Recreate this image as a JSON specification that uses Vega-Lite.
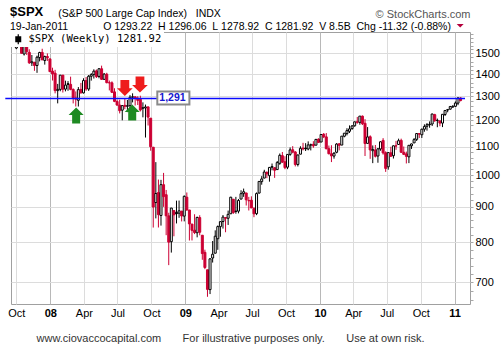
{
  "$schema": "https://vega.github.io/schema/vega-lite/v6.json",
  "width": 459,
  "height": 272,
  "autosize": {"type": "none"},
  "padding": {"left": 11, "top": 32, "right": 32, "bottom": 49},
  "background": "white",
  "config": {"view": {"stroke": "#a0a0a0", "strokeWidth": 1}, "font": "Liberation Sans"},
  "title": {
    "text": "$SPX",
    "subtitle": "19-Jan-2011\u00a0\u00a0\u00a0\u00a0\u00a0\u00a0\u00a0\u00a0\u00a0\u00a0\u00a0\u00a0O\u00a01293.22\u00a0\u00a0H\u00a01296.06\u00a0\u00a0L\u00a01278.92\u00a0\u00a0C\u00a01281.92\u00a0\u00a0V\u00a08.5B\u00a0\u00a0Chg\u00a0-11.32\u00a0(-0.88%)",
    "anchor": "start",
    "frame": "group",
    "dx": -1,
    "offset": -24,
    "font": "Liberation Sans",
    "fontSize": 13,
    "fontWeight": "bold",
    "color": "#000000",
    "subtitleFont": "Liberation Sans",
    "subtitleFontSize": 10.5,
    "subtitleColor": "#000000",
    "subtitlePadding": 2.5
  },
  "layer": [
    {
      "data": {"values": [
        {"d":"2007-10-01","o":1527.3,"h":1561.9,"l":1521.4,"c":1557.6},
        {"d":"2007-10-08","o":1557.6,"h":1576.1,"l":1546.7,"c":1561.8},
        {"d":"2007-10-15","o":1562.3,"h":1564.7,"l":1500.3,"c":1500.6},
        {"d":"2007-10-22","o":1497.2,"h":1535.4,"l":1489.6,"c":1535.3},
        {"d":"2007-10-29","o":1536.9,"h":1552.8,"l":1492.5,"c":1509.7},
        {"d":"2007-11-05","o":1505.6,"h":1520.8,"l":1448.5,"c":1453.7},
        {"d":"2007-11-12","o":1453.7,"h":1492.1,"l":1438.5,"c":1458.7},
        {"d":"2007-11-19","o":1456.7,"h":1456.7,"l":1415.6,"c":1440.7},
        {"d":"2007-11-26","o":1440.7,"h":1488.9,"l":1406.1,"c":1481.1},
        {"d":"2007-12-03","o":1479.6,"h":1508.3,"l":1460.7,"c":1504.7},
        {"d":"2007-12-10","o":1505.1,"h":1523.6,"l":1467.4,"c":1468.0},
        {"d":"2007-12-17","o":1465.1,"h":1489.1,"l":1445.1,"c":1484.5},
        {"d":"2007-12-24","o":1484.6,"h":1500.1,"l":1463.0,"c":1478.5},
        {"d":"2007-12-31","o":1473.0,"h":1473.0,"l":1411.2,"c":1411.6},
        {"d":"2008-01-07","o":1414.1,"h":1430.3,"l":1370.6,"c":1401.0},
        {"d":"2008-01-14","o":1404.6,"h":1420.2,"l":1313.2,"c":1325.2},
        {"d":"2008-01-21","o":1325.2,"h":1355.2,"l":1270.1,"c":1330.6},
        {"d":"2008-01-28","o":1330.7,"h":1396.0,"l":1322.4,"c":1395.4},
        {"d":"2008-02-04","o":1395.4,"h":1396.0,"l":1316.8,"c":1331.3},
        {"d":"2008-02-11","o":1331.9,"h":1369.8,"l":1321.9,"c":1350.0},
        {"d":"2008-02-18","o":1355.9,"h":1367.9,"l":1324.6,"c":1353.1},
        {"d":"2008-02-25","o":1353.1,"h":1388.3,"l":1326.9,"c":1330.6},
        {"d":"2008-03-03","o":1330.5,"h":1335.1,"l":1270.0,"c":1293.4},
        {"d":"2008-03-10","o":1293.2,"h":1321.7,"l":1256.9,"c":1288.1},
        {"d":"2008-03-17","o":1283.2,"h":1341.0,"l":1256.9,"c":1329.5},
        {"d":"2008-03-24","o":1330.5,"h":1359.7,"l":1312.8,"c":1315.2},
        {"d":"2008-03-31","o":1315.2,"h":1380.9,"l":1312.6,"c":1370.4},
        {"d":"2008-04-07","o":1370.2,"h":1386.7,"l":1324.4,"c":1332.8},
        {"d":"2008-04-14","o":1332.2,"h":1395.9,"l":1324.0,"c":1390.3},
        {"d":"2008-04-21","o":1390.1,"h":1404.6,"l":1370.2,"c":1397.8},
        {"d":"2008-04-28","o":1397.9,"h":1422.7,"l":1379.6,"c":1413.9},
        {"d":"2008-05-05","o":1415.3,"h":1421.6,"l":1382.2,"c":1388.3},
        {"d":"2008-05-12","o":1389.4,"h":1426.6,"l":1380.8,"c":1425.4},
        {"d":"2008-05-19","o":1425.3,"h":1440.2,"l":1373.7,"c":1375.9},
        {"d":"2008-05-26","o":1375.9,"h":1404.8,"l":1373.1,"c":1400.4},
        {"d":"2008-06-02","o":1399.6,"h":1406.3,"l":1358.0,"c":1360.7},
        {"d":"2008-06-09","o":1360.6,"h":1370.6,"l":1326.2,"c":1360.0},
        {"d":"2008-06-16","o":1360.0,"h":1366.6,"l":1314.5,"c":1317.9},
        {"d":"2008-06-23","o":1319.8,"h":1335.6,"l":1275.2,"c":1278.4},
        {"d":"2008-06-30","o":1278.1,"h":1285.7,"l":1260.7,"c":1262.9},
        {"d":"2008-07-07","o":1262.9,"h":1285.7,"l":1228.3,"c":1239.5},
        {"d":"2008-07-14","o":1241.6,"h":1262.3,"l":1200.4,"c":1260.7},
        {"d":"2008-07-21","o":1261.8,"h":1290.7,"l":1245.8,"c":1257.8},
        {"d":"2008-07-28","o":1257.8,"h":1284.4,"l":1233.6,"c":1260.3},
        {"d":"2008-08-04","o":1260.3,"h":1305.5,"l":1247.5,"c":1296.3},
        {"d":"2008-08-11","o":1296.3,"h":1313.2,"l":1274.3,"c":1298.2},
        {"d":"2008-08-18","o":1298.1,"h":1300.2,"l":1261.1,"c":1292.2},
        {"d":"2008-08-25","o":1292.2,"h":1300.7,"l":1263.2,"c":1282.8},
        {"d":"2008-09-01","o":1287.8,"h":1303.0,"l":1236.4,"c":1242.3},
        {"d":"2008-09-08","o":1249.5,"h":1274.4,"l":1212.4,"c":1251.7},
        {"d":"2008-09-15","o":1250.9,"h":1265.1,"l":1133.5,"c":1255.1},
        {"d":"2008-09-22","o":1255.4,"h":1255.5,"l":1179.8,"c":1213.3},
        {"d":"2008-09-29","o":1209.1,"h":1209.1,"l":1084.8,"c":1099.2},
        {"d":"2008-10-06","o":1097.6,"h":1097.6,"l":839.8,"c":899.2},
        {"d":"2008-10-13","o":912.8,"h":1044.3,"l":865.8,"c":940.6},
        {"d":"2008-10-20","o":943.5,"h":985.4,"l":840.0,"c":876.8},
        {"d":"2008-10-27","o":874.3,"h":984.4,"l":845.3,"c":968.8},
        {"d":"2008-11-03","o":968.7,"h":1007.5,"l":899.7,"c":931.0},
        {"d":"2008-11-10","o":936.8,"h":951.9,"l":818.7,"c":873.3},
        {"d":"2008-11-17","o":873.2,"h":882.3,"l":741.0,"c":800.0},
        {"d":"2008-11-24","o":801.2,"h":896.2,"l":772.6,"c":896.2},
        {"d":"2008-12-01","o":888.6,"h":888.6,"l":815.7,"c":876.1},
        {"d":"2008-12-08","o":882.7,"h":918.6,"l":851.4,"c":879.7},
        {"d":"2008-12-15","o":881.1,"h":918.9,"l":867.5,"c":887.9},
        {"d":"2008-12-22","o":887.2,"h":887.4,"l":857.1,"c":872.8},
        {"d":"2008-12-29","o":872.4,"h":934.7,"l":857.3,"c":931.8},
        {"d":"2009-01-05","o":929.2,"h":943.9,"l":888.3,"c":890.4},
        {"d":"2009-01-12","o":890.4,"h":890.4,"l":804.3,"c":850.1},
        {"d":"2009-01-19","o":849.6,"h":849.6,"l":804.5,"c":832.0},
        {"d":"2009-01-26","o":832.5,"h":877.9,"l":821.7,"c":825.9},
        {"d":"2009-02-02","o":825.4,"h":870.8,"l":812.9,"c":868.6},
        {"d":"2009-02-09","o":868.2,"h":875.0,"l":818.4,"c":826.8},
        {"d":"2009-02-16","o":818.6,"h":818.6,"l":754.3,"c":770.1},
        {"d":"2009-02-23","o":773.3,"h":780.1,"l":731.1,"c":735.1},
        {"d":"2009-03-02","o":729.6,"h":729.6,"l":666.8,"c":683.4},
        {"d":"2009-03-09","o":683.0,"h":758.3,"l":672.9,"c":756.6},
        {"d":"2009-03-16","o":758.8,"h":803.0,"l":747.4,"c":768.5},
        {"d":"2009-03-23","o":771.0,"h":832.0,"l":771.0,"c":815.9},
        {"d":"2009-03-30","o":809.1,"h":845.6,"l":779.8,"c":842.5},
        {"d":"2009-04-06","o":842.3,"h":856.6,"l":814.5,"c":856.6},
        {"d":"2009-04-13","o":856.9,"h":875.6,"l":836.9,"c":869.6},
        {"d":"2009-04-20","o":868.3,"h":868.3,"l":826.8,"c":866.2},
        {"d":"2009-04-27","o":866.2,"h":888.7,"l":847.1,"c":877.5},
        {"d":"2009-05-04","o":879.2,"h":930.2,"l":878.9,"c":929.2},
        {"d":"2009-05-11","o":922.9,"h":922.9,"l":878.9,"c":882.9},
        {"d":"2009-05-18","o":886.1,"h":930.2,"l":879.5,"c":887.0},
        {"d":"2009-05-25","o":887.0,"h":923.7,"l":880.5,"c":919.1},
        {"d":"2009-06-01","o":923.3,"h":951.0,"l":923.3,"c":940.1},
        {"d":"2009-06-08","o":940.3,"h":956.2,"l":930.2,"c":946.2},
        {"d":"2009-06-15","o":942.4,"h":942.4,"l":903.8,"c":921.2},
        {"d":"2009-06-22","o":918.1,"h":930.2,"l":888.9,"c":918.9},
        {"d":"2009-06-29","o":919.9,"h":931.9,"l":896.4,"c":896.4},
        {"d":"2009-07-06","o":894.3,"h":898.7,"l":869.3,"c":879.1},
        {"d":"2009-07-13","o":879.6,"h":944.0,"l":875.3,"c":940.4},
        {"d":"2009-07-20","o":942.1,"h":979.8,"l":940.6,"c":979.3},
        {"d":"2009-07-27","o":978.6,"h":996.7,"l":968.7,"c":987.5},
        {"d":"2009-08-03","o":990.2,"h":1018.0,"l":990.2,"c":1010.5},
        {"d":"2009-08-10","o":1008.9,"h":1013.1,"l":990.0,"c":1004.1},
        {"d":"2009-08-17","o":998.2,"h":1027.6,"l":978.5,"c":1026.1},
        {"d":"2009-08-24","o":1026.6,"h":1039.5,"l":1016.2,"c":1028.9},
        {"d":"2009-08-31","o":1025.2,"h":1025.2,"l":991.0,"c":1016.4},
        {"d":"2009-09-07","o":1018.7,"h":1048.2,"l":1018.7,"c":1042.7},
        {"d":"2009-09-14","o":1040.2,"h":1074.8,"l":1035.0,"c":1068.3},
        {"d":"2009-09-21","o":1067.1,"h":1080.2,"l":1041.2,"c":1044.4},
        {"d":"2009-09-28","o":1045.4,"h":1065.0,"l":1019.9,"c":1025.2},
        {"d":"2009-10-05","o":1026.9,"h":1071.5,"l":1020.2,"c":1071.5},
        {"d":"2009-10-12","o":1071.6,"h":1096.6,"l":1066.6,"c":1087.7},
        {"d":"2009-10-19","o":1088.2,"h":1101.4,"l":1075.6,"c":1079.6},
        {"d":"2009-10-26","o":1080.4,"h":1083.2,"l":1029.4,"c":1036.2},
        {"d":"2009-11-02","o":1036.2,"h":1071.5,"l":1029.4,"c":1069.3},
        {"d":"2009-11-09","o":1072.3,"h":1101.0,"l":1072.3,"c":1093.5},
        {"d":"2009-11-16","o":1094.1,"h":1113.7,"l":1085.8,"c":1091.4},
        {"d":"2009-11-23","o":1094.1,"h":1112.4,"l":1083.7,"c":1091.5},
        {"d":"2009-11-30","o":1091.1,"h":1119.1,"l":1086.3,"c":1106.0},
        {"d":"2009-12-07","o":1105.5,"h":1110.7,"l":1085.9,"c":1106.4},
        {"d":"2009-12-14","o":1107.9,"h":1119.7,"l":1095.4,"c":1102.5},
        {"d":"2009-12-21","o":1105.0,"h":1128.1,"l":1105.0,"c":1126.5},
        {"d":"2009-12-28","o":1127.5,"h":1130.4,"l":1114.6,"c":1115.1},
        {"d":"2010-01-04","o":1116.6,"h":1145.9,"l":1116.6,"c":1145.0},
        {"d":"2010-01-11","o":1146.0,"h":1150.4,"l":1131.4,"c":1136.0},
        {"d":"2010-01-18","o":1136.0,"h":1150.5,"l":1090.2,"c":1091.8},
        {"d":"2010-01-25","o":1092.0,"h":1103.7,"l":1071.6,"c":1073.9},
        {"d":"2010-02-01","o":1073.9,"h":1104.7,"l":1044.5,"c":1066.2},
        {"d":"2010-02-08","o":1065.5,"h":1080.0,"l":1056.5,"c":1075.5},
        {"d":"2010-02-15","o":1079.1,"h":1112.4,"l":1075.5,"c":1109.2},
        {"d":"2010-02-22","o":1110.0,"h":1112.3,"l":1086.0,"c":1104.5},
        {"d":"2010-03-01","o":1105.4,"h":1139.0,"l":1105.4,"c":1138.7},
        {"d":"2010-03-08","o":1138.4,"h":1150.2,"l":1134.4,"c":1150.0},
        {"d":"2010-03-15","o":1148.5,"h":1169.2,"l":1141.5,"c":1159.9},
        {"d":"2010-03-22","o":1157.3,"h":1180.2,"l":1150.7,"c":1166.6},
        {"d":"2010-03-29","o":1167.7,"h":1181.4,"l":1163.1,"c":1178.1},
        {"d":"2010-04-05","o":1178.7,"h":1194.7,"l":1175.1,"c":1194.4},
        {"d":"2010-04-12","o":1194.9,"h":1213.9,"l":1186.8,"c":1192.1},
        {"d":"2010-04-19","o":1192.1,"h":1217.3,"l":1183.0,"c":1217.3},
        {"d":"2010-04-26","o":1217.1,"h":1219.8,"l":1181.6,"c":1186.7},
        {"d":"2010-05-03","o":1188.6,"h":1205.1,"l":1065.8,"c":1110.9},
        {"d":"2010-05-10","o":1111.6,"h":1173.6,"l":1111.6,"c":1135.7},
        {"d":"2010-05-17","o":1136.5,"h":1141.9,"l":1055.9,"c":1087.7},
        {"d":"2010-05-24","o":1084.8,"h":1104.0,"l":1040.8,"c":1089.4},
        {"d":"2010-05-31","o":1087.3,"h":1105.7,"l":1060.7,"c":1064.9},
        {"d":"2010-06-07","o":1065.8,"h":1094.6,"l":1042.2,"c":1091.6},
        {"d":"2010-06-14","o":1091.2,"h":1119.1,"l":1084.8,"c":1117.5},
        {"d":"2010-06-21","o":1122.8,"h":1131.2,"l":1070.8,"c":1076.8},
        {"d":"2010-06-28","o":1077.5,"h":1082.6,"l":1010.9,"c":1022.6},
        {"d":"2010-07-05","o":1028.1,"h":1078.9,"l":1018.4,"c":1078.0},
        {"d":"2010-07-12","o":1077.2,"h":1099.1,"l":1063.3,"c":1064.9},
        {"d":"2010-07-19","o":1066.9,"h":1103.7,"l":1056.9,"c":1102.7},
        {"d":"2010-07-26","o":1102.9,"h":1120.9,"l":1088.0,"c":1101.6},
        {"d":"2010-08-02","o":1107.5,"h":1129.2,"l":1107.5,"c":1121.6},
        {"d":"2010-08-09","o":1122.8,"h":1129.2,"l":1076.6,"c":1079.3},
        {"d":"2010-08-16","o":1079.2,"h":1100.1,"l":1069.2,"c":1071.7},
        {"d":"2010-08-23","o":1073.4,"h":1081.6,"l":1039.7,"c":1064.6},
        {"d":"2010-08-30","o":1062.9,"h":1105.1,"l":1040.9,"c":1104.5},
        {"d":"2010-09-06","o":1102.6,"h":1110.9,"l":1091.2,"c":1109.6},
        {"d":"2010-09-13","o":1113.4,"h":1131.5,"l":1113.4,"c":1125.6},
        {"d":"2010-09-20","o":1126.6,"h":1148.9,"l":1120.5,"c":1148.7},
        {"d":"2010-09-27","o":1148.6,"h":1150.0,"l":1131.9,"c":1146.2},
        {"d":"2010-10-04","o":1144.0,"h":1167.7,"l":1131.9,"c":1165.2},
        {"d":"2010-10-11","o":1165.3,"h":1184.4,"l":1155.7,"c":1176.2},
        {"d":"2010-10-18","o":1176.8,"h":1189.4,"l":1159.7,"c":1183.1},
        {"d":"2010-10-25","o":1184.7,"h":1196.1,"l":1171.0,"c":1183.3},
        {"d":"2010-11-01","o":1185.7,"h":1227.1,"l":1177.7,"c":1225.9},
        {"d":"2010-11-08","o":1223.2,"h":1226.8,"l":1194.1,"c":1199.2},
        {"d":"2010-11-15","o":1200.4,"h":1207.4,"l":1173.0,"c":1199.7},
        {"d":"2010-11-22","o":1198.1,"h":1198.9,"l":1176.9,"c":1189.4},
        {"d":"2010-11-29","o":1189.4,"h":1225.6,"l":1173.6,"c":1224.7},
        {"d":"2010-12-06","o":1223.9,"h":1240.4,"l":1217.7,"c":1240.4},
        {"d":"2010-12-13","o":1242.5,"h":1246.7,"l":1232.9,"c":1243.9},
        {"d":"2010-12-20","o":1245.8,"h":1259.4,"l":1244.0,"c":1256.8},
        {"d":"2010-12-27","o":1254.7,"h":1262.6,"l":1251.5,"c":1257.6},
        {"d":"2011-01-03","o":1257.6,"h":1278.2,"l":1255.1,"c":1271.5},
        {"d":"2011-01-10","o":1271.0,"h":1296.3,"l":1262.5,"c":1293.2},
        {"d":"2011-01-17","o":1293.22,"h":1296.06,"l":1278.92,"c":1281.92}
      ]},
      "transform": [{"window": [{"op": "lag", "field": "c", "as": "pc"}], "sort": [{"field": "d", "order": "ascending"}]}],
      "layer": [
        {
          "mark": {"type": "rule", "strokeWidth": 1},
          "encoding": {
            "x": {
              "field": "d", "type": "temporal",
              "scale": {"type": "utc", "nice": false, "domain": [1191110400000, 1296259200000]},
              "axis": {
                "values": [1191196800000, 1199145600000, 1207008000000, 1214870400000, 1222819200000, 1230768000000, 1238544000000, 1246406400000, 1254355200000, 1262304000000, 1270080000000, 1277942400000, 1285891200000, 1293840000000],
                "tickCount": 100,
                "labelExpr": "utcmonth(datum.value) == 0 ? utcFormat(datum.value, '%y') : utcFormat(datum.value, '%b')",
                "labelFont": "Liberation Sans",
                "labelFontSize": 11,
                "labelFontWeight": {"condition": {"test": "utcmonth(datum.value) == 0", "value": "bold"}, "value": "normal"},
                "labelColor": "#000000",
                "labelPadding": 3,
                "labelFlush": false,
                "labelOverlap": false,
                "ticks": false,
                "domain": false,
                "grid": true,
                "gridColor": {"condition": {"test": "utcmonth(datum.value) == 0", "value": "#b8b8b8"}, "value": "#dcdcdc"},
                "title": "www.ciovaccocapital.com\u00a0\u00a0\u00a0\u00a0\u00a0\u00a0\u00a0For illustrative purposes only.\u00a0\u00a0\u00a0\u00a0\u00a0\u00a0\u00a0Use at own risk.",
                "titleFont": "Liberation Sans",
                "titleFontSize": 11,
                "titleFontWeight": "normal",
                "titleColor": "#333333",
                "titleX": 25,
                "titleY": 37,
                "titleAlign": "left",
                "titleAnchor": "start",
                "titleBaseline": "alphabetic"
              }
            },
            "y": {
              "field": "l", "type": "quantitative",
              "scale": {"type": "log", "domain": [651, 1611], "nice": false, "zero": false},
              "axis": {
                "orient": "right",
                "values": [660, 680, 700, 720, 740, 760, 780, 800, 820, 840, 860, 880, 900, 920, 940, 960, 980, 1000, 1020, 1040, 1060, 1080, 1100, 1120, 1140, 1160, 1180, 1200, 1220, 1240, 1260, 1280, 1300, 1320, 1340, 1360, 1380, 1400, 1420, 1440, 1460, 1480, 1500, 1520, 1540, 1560, 1580, 1600],
                "tickCount": 100,
                "format": "d",
                "labelExpr": "(datum.value % 100 == 0 && datum.value >= 700 && datum.value <= 1500) ? datum.label : ''",
                "labelFont": "Liberation Sans",
                "labelFontSize": 11,
                "labelColor": "#000000",
                "labelPadding": 2,
                "labelOverlap": false,
                "labelFlush": false,
                "ticks": true,
                "tickSize": 3,
                "tickColor": "#a8a8a8",
                "domain": false,
                "grid": true,
                "gridColor": "#dcdcdc",
                "gridOpacity": {"condition": {"test": "datum.value % 100 == 0 && datum.value >= 700 && datum.value <= 1500", "value": 1}, "value": 0},
                "title": "\u00a9\u00a0StockCharts.com",
                "titleAngle": 0,
                "titleX": 0,
                "titleY": -15,
                "titleAlign": "right",
                "titleBaseline": "alphabetic",
                "titleFont": "Liberation Sans",
                "titleFontSize": 11,
                "titleFontWeight": "normal",
                "titleColor": "#555555"
              }
            },
            "y2": {"field": "h"},
            "color": {"condition": {"test": "datum.pc != null && datum.c < datum.pc", "value": "#cc0033"}, "value": "#000000"}
          }
        },
        {
          "mark": {"type": "bar", "width": 2, "strokeWidth": 1, "orient": "vertical"},
          "encoding": {
            "x": {"field": "d", "type": "temporal"},
            "y": {"field": "o", "type": "quantitative"},
            "y2": {"field": "c"},
            "stroke": {"condition": {"test": "datum.pc != null && datum.c < datum.pc", "value": "#cc0033"}, "value": "#000000"},
            "fill": {"condition": [{"test": "datum.c > datum.o", "value": "#ffffff"}, {"test": "datum.pc != null && datum.c < datum.pc", "value": "#cc0033"}], "value": "#000000"}
          }
        }
      ]
    },
    {
      "data": {"values": [{"d1": "2007-09-01", "d2": "2011-01-29", "v": 1291}]},
      "mark": {"type": "rule", "color": "#0a0aff", "strokeWidth": 1.5},
      "encoding": {
        "x": {"field": "d1", "type": "temporal"},
        "x2": {"field": "d2"},
        "y": {"field": "v", "type": "quantitative"}
      }
    },
    {
      "data": {"values": [{"d1": "2008-10-17", "d2": "2009-01-12", "v1": 1265, "v2": 1321}]},
      "mark": {"type": "rect", "fill": "#ffffff", "stroke": "#8a8a8a", "strokeWidth": 2},
      "encoding": {
        "x": {"field": "d1", "type": "temporal"},
        "x2": {"field": "d2"},
        "y": {"field": "v1", "type": "quantitative"},
        "y2": {"field": "v2"}
      }
    },
    {
      "data": {"values": [{"d": "2008-11-27", "v": 1291, "t": "1,291"}]},
      "mark": {"type": "text", "font": "Liberation Sans", "fontSize": 10.5, "fontWeight": "bold", "color": "#1515d0", "align": "center", "baseline": "middle"},
      "encoding": {
        "x": {"field": "d", "type": "temporal"},
        "y": {"field": "v", "type": "quantitative"},
        "text": {"field": "t"}
      }
    },
    {
      "data": {"values": [{"d": "2008-03-11", "v": 1220}, {"d": "2008-08-10", "v": 1232}]},
      "mark": {"type": "point", "filled": true, "opacity": 1, "size": 256, "shape": "M0,-1L0.94,-0.05L0.5,-0.05L0.5,1L-0.5,1L-0.5,-0.05L-0.94,-0.05Z", "color": "#1e8a22", "strokeWidth": 0},
      "encoding": {
        "x": {"field": "d", "type": "temporal"},
        "y": {"field": "v", "type": "quantitative"}
      }
    },
    {
      "data": {"values": [{"d": "2008-07-21", "v": 1337}, {"d": "2008-08-31", "v": 1352}]},
      "mark": {"type": "point", "filled": true, "opacity": 1, "size": 256, "shape": "M0,1L0.98,0.05L0.55,0.05L0.55,-1L-0.55,-1L-0.55,0.05L-0.98,0.05Z", "color": "#ee1c1c", "strokeWidth": 0},
      "encoding": {
        "x": {"field": "d", "type": "temporal"},
        "y": {"field": "v", "type": "quantitative"}
      }
    },
    {
      "data": {"values": [{"d": "2011-01-16", "v": 1645}]},
      "mark": {"type": "point", "filled": true, "opacity": 1, "size": 49, "shape": "M-1,-0.5L1,-0.5L0,0.5Z", "color": "#b4003c", "strokeWidth": 0},
      "encoding": {
        "x": {"field": "d", "type": "temporal"},
        "y": {"field": "v", "type": "quantitative"}
      }
    },
    {
      "data": {"values": [{"n": "$SPX (Weekly) 1281.92", "d": "2007-10-20", "v": 1580}]},
      "mark": {"type": "point", "filled": true, "color": "#000000", "size": 1},
      "encoding": {
        "x": {"field": "d", "type": "temporal"},
        "y": {"field": "v", "type": "quantitative"},
        "shape": {
          "field": "n", "type": "nominal",
          "scale": {"range": ["M-0.12,-1H0.12V-0.6H0.6V0.6H0.12V1H-0.12V0.6H-0.6V-0.6H-0.12Z"]},
          "legend": {
            "orient": "top-left",
            "offset": 0,
            "padding": 2,
            "title": null,
            "fillColor": "#ffffff",
            "labelFont": "DejaVu Sans Mono",
            "labelFontSize": 10.5,
            "labelColor": "#000000",
            "labelOffset": 5,
            "labelLimit": 400,
            "symbolSize": 100,
            "symbolFillColor": "#000000",
            "symbolStrokeColor": "#000000",
            "symbolStrokeWidth": 0,
            "symbolOpacity": 1
          }
        }
      }
    },
    {
      "data": {"values": [{"t": "(S&P 500 Large Cap Index)\u00a0\u00a0\u00a0INDX", "d": "2007-10-25", "v": 1575}]},
      "mark": {"type": "point", "filled": true, "size": 1},
      "encoding": {
        "x": {"field": "d", "type": "temporal"},
        "y": {"field": "v", "type": "quantitative"},
        "color": {
          "field": "t", "type": "nominal",
          "scale": {"range": ["#000000"]},
          "legend": {
            "orient": "none",
            "legendX": 36.7,
            "legendY": -23,
            "padding": 0,
            "title": null,
            "labelFont": "Liberation Sans",
            "labelFontSize": 10.5,
            "labelColor": "#000000",
            "labelOffset": 0,
            "labelLimit": 400,
            "symbolSize": 0,
            "symbolOpacity": 0,
            "symbolStrokeWidth": 0
          }
        }
      }
    }
  ]
}
